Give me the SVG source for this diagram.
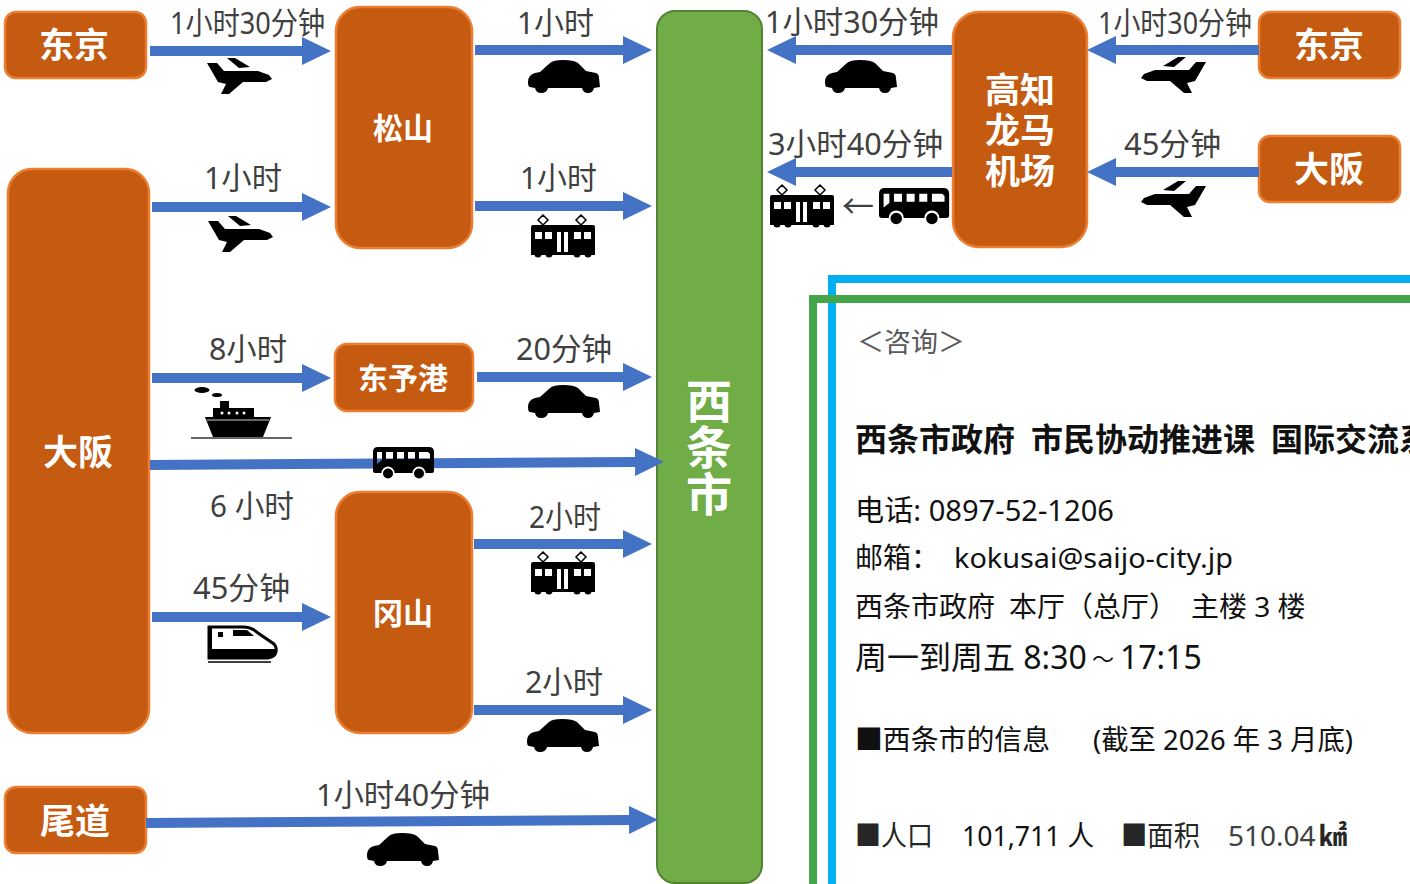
<svg xmlns="http://www.w3.org/2000/svg" width="1410" height="884" viewBox="0 0 1410 884">
<style>
text{font-family:"Noto Sans","Noto Sans CJK SC",sans-serif}
.n{fill:#C55A11;stroke:#ED7D31;stroke-width:2.5}
.nt{font-family:"Noto Sans CJK SC",sans-serif;font-weight:700;fill:#fff;text-anchor:middle}
.l{font-size:31px;fill:#404040}
.c{stroke:#4472C4;stroke-width:10;fill:none;marker-end:url(#ah)}
.p{font-size:28px;fill:#111}
</style>
<defs>
<marker id="ah" markerUnits="userSpaceOnUse" markerWidth="30" markerHeight="30" refX="0" refY="15" orient="auto" viewBox="0 0 30 30"><path d="M0,1 L29,15 L0,29 Z" fill="#4472C4"/></marker>
<symbol id="plane" overflow="visible"><path d="M16,13 L26,13 L33,21 L67,21 L78,25 L81,29 L75,32 L52,32 L38,44 L30,44 L35,34 L27,32 Z M36,8 L44,8 L59,17 L48,18 Z"/></symbol>
<symbol id="car" overflow="visible"><path d="M0,22 Q0,15 7,13 L12,12 L22,3 Q25,0 35,0 Q46,0 50,3 L58,11 L68,13 Q71,14 71,18 L72,27 L66,28 Q65,33 60,33 Q55,33 54,28 L20,28 Q19,33 13,33 Q8,33 7,28 L2,27 Q0,27 0,22Z"/></symbol>
<symbol id="train" overflow="visible"><path fill="none" stroke="#000" stroke-width="1.5" d="M12,1 L17,6 L12,11 L7,6Z M50,1 L55,6 L50,11 L45,6Z"/><path fill-rule="evenodd" d="M2,11 H62 Q64,11 64,13 V41 H0 V13 Q0,11 2,11Z M4,18 V25 H11 V18Z M14,18 V25 H21 V18Z M26,18 V38 H30 V18Z M33,18 V38 H37 V18Z M43,18 V25 H50 V18Z M53,18 V25 H60 V18Z"/><circle cx="7" cy="40" r="3.500"/><circle cx="18" cy="40" r="3.500"/><circle cx="46" cy="40" r="3.500"/><circle cx="57" cy="40" r="3.500"/></symbol>
<symbol id="bus" overflow="visible"><path fill-rule="evenodd" d="M5,0 H56 Q61,0 61,5 V24 Q61,26 59,26 H2 Q0,26 0,24 V5 Q0,0 5,0Z M4,5 V17 L9,13 V5Z M13,5 V12 H20 V5Z M24,5 V12 H31 V5Z M35,5 V12 H42 V5Z M46,5 V12 H57 V7 L55,5Z"/><circle cx="15" cy="26" r="6.500" fill="#fff"/><circle cx="46" cy="26" r="6.500" fill="#fff"/><circle cx="15" cy="26.500" r="5"/><circle cx="46" cy="26.500" r="5"/></symbol>
</defs>
<rect width="1410" height="884" fill="#fff"/>
<g id="panel" fill="none">
<path d="M832,884 V279 H1410" stroke="#00B0F0" stroke-width="8"/>
<path d="M813,884 V299 H1410" stroke="#43A648" stroke-width="8"/>
</g>
<g id="node-tokyo-l"><rect class="n" x="5" y="12" width="141" height="66" rx="11"/><text class="nt" x="74" y="58" font-size="35">东京</text></g>
<g id="node-matsuyama"><rect class="n" x="336" y="7" width="136" height="241" rx="24"/><text class="nt" x="403" y="139" font-size="30">松山</text></g>
<g id="node-osaka-l"><rect class="n" x="8" y="169" width="141" height="564" rx="24"/><text class="nt" x="78" y="465" font-size="35">大阪</text></g>
<g id="node-toyo"><rect class="n" x="335" y="344" width="138" height="67" rx="12"/><text class="nt" x="403" y="389" font-size="30">东予港</text></g>
<g id="node-okayama"><rect class="n" x="336" y="492" width="136" height="241" rx="24"/><text class="nt" x="403" y="624" font-size="30">冈山</text></g>
<g id="node-onomichi"><rect class="n" x="5" y="787" width="141" height="66" rx="11"/><text class="nt" x="75" y="834" font-size="35">尾道</text></g>
<g id="node-saijo"><rect x="657" y="11" width="105" height="872" rx="18" fill="#70AD47" stroke="#548235" stroke-width="2"/><text class="nt" font-size="46"><tspan x="709" y="418">西</tspan><tspan x="709" y="464">条</tspan><tspan x="709" y="511">市</tspan></text></g>
<g id="node-kochi"><rect class="n" x="953" y="12" width="134" height="235" rx="26"/><text class="nt" font-size="35"><tspan x="1020" y="103">高知</tspan><tspan x="1020" y="143">龙马</tspan><tspan x="1020" y="184">机场</tspan></text></g>
<g id="node-tokyo-r"><rect class="n" x="1259" y="12" width="141" height="66" rx="11"/><text class="nt" x="1329" y="58" font-size="35">东京</text></g>
<g id="node-osaka-r"><rect class="n" x="1259" y="136" width="141" height="66" rx="11"/><text class="nt" x="1329" y="182" font-size="35">大阪</text></g>
<g id="connectors">
<line class="c" x1="150" y1="51" x2="302" y2="51"/>
<line class="c" x1="152" y1="207" x2="302" y2="207"/>
<line class="c" x1="475" y1="50" x2="623" y2="50"/>
<line class="c" x1="475" y1="206" x2="623" y2="206"/>
<line class="c" x1="152" y1="378" x2="302" y2="378"/>
<line class="c" x1="477" y1="377" x2="623" y2="377"/>
<line class="c" x1="150" y1="465" x2="635" y2="462"/>
<line class="c" x1="152" y1="617" x2="302" y2="617"/>
<line class="c" x1="474" y1="544" x2="623" y2="544"/>
<line class="c" x1="474" y1="710" x2="623" y2="710"/>
<line class="c" x1="146" y1="823" x2="629" y2="820"/>
<line class="c" x1="952" y1="50" x2="796" y2="50"/>
<line class="c" x1="952" y1="172" x2="796" y2="172"/>
<line class="c" x1="1259" y1="50" x2="1116" y2="50"/>
<line class="c" x1="1259" y1="172" x2="1116" y2="172"/>
</g>
<g id="labels">
<text class="l" x="170" y="34" textLength="155" lengthAdjust="spacingAndGlyphs">1小时30分钟</text>
<text class="l" x="517" y="34" textLength="77" lengthAdjust="spacingAndGlyphs">1小时</text>
<text class="l" x="204" y="189" textLength="78" lengthAdjust="spacingAndGlyphs">1小时</text>
<text class="l" x="520" y="189" textLength="77" lengthAdjust="spacingAndGlyphs">1小时</text>
<text class="l" x="209" y="360" textLength="78" lengthAdjust="spacingAndGlyphs">8小时</text>
<text class="l" x="516" y="360" textLength="96" lengthAdjust="spacingAndGlyphs">20分钟</text>
<text class="l" x="210" y="517" textLength="84" lengthAdjust="spacingAndGlyphs">6 小时</text>
<text class="l" x="193" y="599" textLength="97" lengthAdjust="spacingAndGlyphs">45分钟</text>
<text class="l" x="529" y="528" textLength="72" lengthAdjust="spacingAndGlyphs">2小时</text>
<text class="l" x="525" y="693" textLength="78" lengthAdjust="spacingAndGlyphs">2小时</text>
<text class="l" x="316" y="806" textLength="174" lengthAdjust="spacingAndGlyphs">1小时40分钟</text>
<text class="l" x="765" y="33" textLength="174" lengthAdjust="spacingAndGlyphs">1小时30分钟</text>
<text class="l" x="768" y="155" textLength="175" lengthAdjust="spacingAndGlyphs">3小时40分钟</text>
<text class="l" x="1098" y="34" textLength="154" lengthAdjust="spacingAndGlyphs">1小时30分钟</text>
<text class="l" x="1124" y="155" textLength="97" lengthAdjust="spacingAndGlyphs">45分钟</text>
<text class="l" x="858" y="218" text-anchor="middle" style="font-size:32px">←</text>
</g>
<g id="icons">
<use href="#plane" x="191" y="50"/>
<use href="#plane" x="192" y="208"/>
<use href="#plane" transform="translate(1222,49) scale(-1,1)"/>
<use href="#plane" transform="translate(1222,173) scale(-1,1)"/>
<use href="#car" x="528" y="60"/>
<use href="#car" x="825" y="60"/>
<use href="#car" x="528" y="385"/>
<use href="#car" x="527" y="719"/>
<use href="#car" x="367" y="833"/>
<use href="#train" x="531" y="214"/>
<use href="#train" x="531" y="551"/>
<use href="#train" x="770" y="184"/>
<use href="#bus" x="373" y="447"/>
<use href="#bus" transform="translate(879,188) scale(1.15)"/>
<g id="ship">
<ellipse cx="202" cy="390" rx="7.500" ry="3"/><ellipse cx="217" cy="395" rx="5" ry="2"/>
<path d="M220,401 H229 V408 H254 V417 H271 L263,437 H213 L205,417 H213 V408 H220Z"/>
<path d="M207,420 H269" stroke="#fff" stroke-width="0.8"/>
<g fill="#fff"><circle cx="222" cy="413" r="1.500"/><circle cx="229" cy="413" r="1.500"/><circle cx="237" cy="413" r="1.500"/><circle cx="244" cy="413" r="1.500"/></g>
<path d="M191,438 H292" stroke="#333" stroke-width="1.500"/>
</g>
<g id="shinkansen">
<path d="M209,627 H243 Q252,627 258,633 L274,644 Q277,647 276,652 Q275,657 268,658 H209Z" fill="#fff" stroke="#000" stroke-width="3"/>
<path d="M209,649 H276 Q275,657 268,659 H208Z"/>
<path d="M208,626 H212 V649 H208Z M218,632 H223 V637 H218Z M233,630 H247 L254,636 H233Z"/>
<path d="M208,662 H271" stroke="#000" stroke-width="1.500"/>
</g>
</g>
<g id="contact">
<text x="857" y="352" font-size="27" fill="#595959" style="font-family:'Noto Sans CJK SC',sans-serif">＜咨询＞</text>
<text y="451" font-size="32" font-weight="700" fill="#111" style="font-family:'Noto Sans CJK SC',sans-serif"><tspan x="855">西条市政府</tspan><tspan x="1031">市民协动推进课</tspan><tspan x="1271">国际交流系</tspan></text>
<text class="p" x="855" y="521" style="font-size:29px" textLength="259" lengthAdjust="spacingAndGlyphs">电话: 0897-52-1206</text>
<text class="p" x="855" y="568">邮箱：</text>
<text class="p" x="954" y="568" textLength="279" lengthAdjust="spacingAndGlyphs">kokusai@saijo-city.jp</text>
<text class="p" x="855" y="617">西条市政府</text>
<text class="p" x="1009" y="617">本厅（总厅）</text>
<text class="p" x="1191" y="617">主楼 3 楼</text>
<text class="p" x="855" y="669" style="font-size:32px">周一到周五 8:30<tspan x="1092" y="667" style="font-size:22px">～</tspan><tspan x="1120" y="669">17:15</tspan></text>
<text class="p" x="855" y="750" textLength="195" lengthAdjust="spacingAndGlyphs">■西条市的信息</text>
<text class="p" x="1093" y="750" textLength="260" lengthAdjust="spacingAndGlyphs">(截至 2026 年 3 月底)</text>
<text class="p" x="855" y="846" style="fill:#262626" textLength="78" lengthAdjust="spacingAndGlyphs">■人口</text>
<text class="p" x="962" y="846" textLength="132" lengthAdjust="spacingAndGlyphs">101,711 人</text>
<text class="p" x="1121" y="846" style="fill:#262626" textLength="79" lengthAdjust="spacingAndGlyphs">■面积</text>
<text class="p" x="1228" y="846" style="fill:#404040">510.04</text>
<text class="p" x="1319" y="846" style="fill:#262626;font-family:'Noto Sans CJK SC',serif;font-weight:700">㎢</text>
</g>
</svg>
